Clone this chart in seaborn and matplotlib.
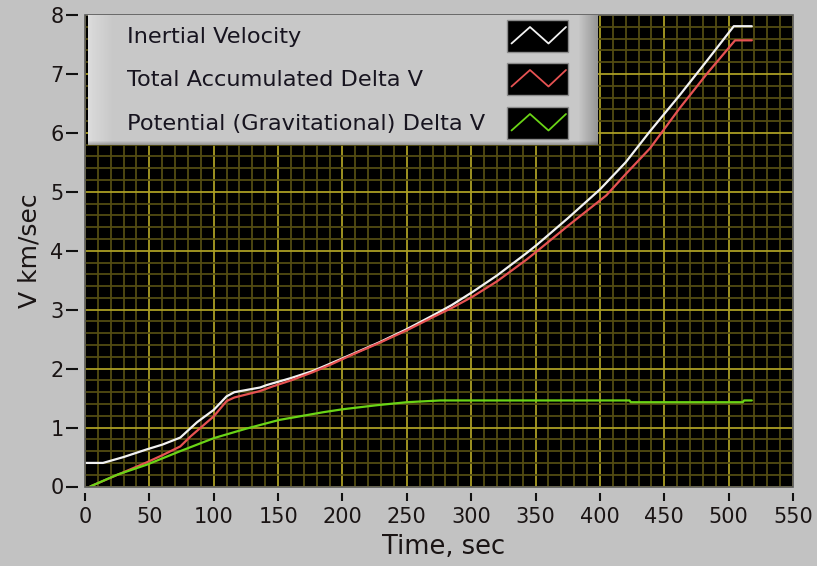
import numpy as np
import pandas as pd
import matplotlib
matplotlib.use("Agg")
import matplotlib.pyplot as plt
from matplotlib.ticker import MultipleLocator
from matplotlib.patches import Rectangle
import seaborn as sns

# ---------------- data ----------------
series_names = ["Inertial Velocity", "Total Accumulated Delta V",
                "Potential (Gravitational) Delta V"]

inertial_t = [0, 14, 30, 48, 60, 74, 87, 100, 110, 116, 136, 141, 160, 177,
              190, 208, 229, 250, 270, 285, 301, 320, 343, 351, 375, 400,
              420, 439, 462, 483, 504, 518]
inertial_v = [0.40, 0.40, 0.50, 0.63, 0.71, 0.83, 1.09, 1.30, 1.53, 1.60,
              1.68, 1.72, 1.84, 1.96, 2.08, 2.25, 2.45, 2.67, 2.90, 3.08,
              3.30, 3.58, 3.96, 4.10, 4.55, 5.04, 5.50, 6.03, 6.64, 7.22,
              7.81, 7.81]

total_t = [4, 20, 48, 60, 74, 82, 100, 110, 116, 136, 146, 160, 177, 190,
           208, 229, 250, 270, 285, 301, 320, 343, 351, 375, 405, 420, 439,
           462, 483, 505, 518]
total_v = [0.00, 0.15, 0.41, 0.53, 0.68, 0.85, 1.19, 1.45, 1.51, 1.62, 1.70,
           1.80, 1.94, 2.06, 2.24, 2.44, 2.65, 2.87, 3.03, 3.22, 3.48, 3.85,
           3.99, 4.42, 4.94, 5.30, 5.74, 6.42, 7.00, 7.57, 7.57]

potential_t = [4, 25, 48, 74, 100, 125, 151, 185, 200, 227, 250, 276, 423,
               424, 511, 512, 518]
potential_v = [0.00, 0.20, 0.37, 0.60, 0.82, 0.98, 1.13, 1.26, 1.31, 1.38,
               1.43, 1.46, 1.46, 1.43, 1.43, 1.46, 1.46]

x_ticks = [0, 50, 100, 150, 200, 250, 300, 350, 400, 450, 500, 550]
y_ticks = [0, 1, 2, 3, 4, 5, 6, 7, 8]

series_colors = ["#f2f2f2", "#e65252", "#6ad416"]

# ---------------- styling ----------------
BG = "#c2c2c2"
MAJOR = "#aa9e24"
MINOR = "#534c12"
TXT = "#1a1414"

sns.set_theme(style="white")
plt.rcParams["font.family"] = ["DejaVu Sans"]

W, H = 817, 566
fig = plt.figure(figsize=(W / 100, H / 100), dpi=100, facecolor=BG)

ax_l, ax_r, ax_t, ax_b = 85, 793, 15, 486.5
ax = fig.add_axes([ax_l / W, 1 - ax_b / H, (ax_r - ax_l) / W, (ax_b - ax_t) / H])
ax.set_facecolor("black")

frames = []
for name, t, v in zip(series_names, [inertial_t, total_t, potential_t],
                      [inertial_v, total_v, potential_v]):
    frames.append(pd.DataFrame({"Time": t, "V": v, "series": name}))
df = pd.concat(frames, ignore_index=True)

for name, col in zip(series_names, series_colors):
    sns.lineplot(data=df[df["series"] == name], x="Time", y="V", ax=ax,
                 color=col, lw=1.6, estimator=None, sort=False, legend=False,
                 zorder=3)

ax.set_xlim(0, 550)
ax.set_ylim(0, 8)
ax.set_xticks(x_ticks)
ax.set_yticks(y_ticks)
ax.xaxis.set_minor_locator(MultipleLocator(10))
ax.yaxis.set_minor_locator(MultipleLocator(0.2))
ax.set_axisbelow(True)
ax.grid(which="minor", color=MINOR, lw=1.3, zorder=0)
ax.grid(which="major", color=MAJOR, lw=1.3, zorder=1)

ax.tick_params(which="minor", length=0)
ax.tick_params(axis="y", which="major", direction="out", length=8.5, width=1.5,
               color="#111111", labelsize=15, labelcolor=TXT, pad=2,
               left=True)
ax.tick_params(axis="x", which="major", direction="out", length=6, width=1.5,
               color="#111111", labelsize=15, labelcolor=TXT, pad=4,
               bottom=True)

for side in ["left", "bottom"]:
    ax.spines[side].set_position(("outward", 5))
    ax.spines[side].set_color("none")
for side in ["top", "right"]:
    ax.spines[side].set_visible(False)
ax.add_patch(Rectangle((0, 0), 1, 1, transform=ax.transAxes, fill=False,
                       ec="#5a5a5a", lw=1.2, zorder=6, clip_on=False))

ax.set_xlabel("Time, sec", fontsize=18.5, color=TXT)
ax.set_ylabel("V km/sec", fontsize=18, color=TXT)
ax.xaxis.set_label_coords(0.507, -0.100)
ax.yaxis.set_label_coords(-0.062, 0.5)

# ---------------- legend panel ----------------
lx0, lx1, ly0, ly1 = 88, 598, 15, 145
lw_px, lh_px = lx1 - lx0, ly1 - ly0
lax = fig.add_axes([lx0 / W, 1 - ly1 / H, lw_px / W, lh_px / H], zorder=5)
lax.set_xlim(0, lw_px)
lax.set_ylim(lh_px, 0)
lax.axis("off")

cols = np.full(lw_px, 200.0)
cols[:6] = np.linspace(222, 214, 6)
cols[6:26] = np.linspace(214, 200, 20)
cols[-20:] = np.linspace(200, 150, 20)
img = np.tile(cols, (lh_px, 1))
img[-4:, :] = img[-4:, :] * np.linspace(0.95, 0.75, 4)[:, None]
img = np.clip(img, 0, 255) / 255.0
lax.imshow(np.dstack([img, img, img]), extent=(0, lw_px, lh_px, 0),
           aspect="auto", interpolation="bilinear", zorder=0)

baselines = [28, 71, 115]
for name, col, base in zip(series_names, series_colors, baselines):
    lax.text(39, base, name, fontsize=16.2, color="#17141f", va="baseline",
             ha="left", zorder=3)
    sy0 = base - 23
    lax.add_patch(Rectangle((419, sy0), 61, 32, fc="black", ec="#8c8c8c",
                            lw=1.0, zorder=2))
    zx = [423.5, 442, 460.5, 478]
    zy = [sy0 + 23.5, sy0 + 7, sy0 + 23.5, sy0 + 7]
    lax.plot(zx, zy, color=col, lw=1.3, zorder=4)

fig.savefig("out.png", dpi=100, facecolor=BG)
